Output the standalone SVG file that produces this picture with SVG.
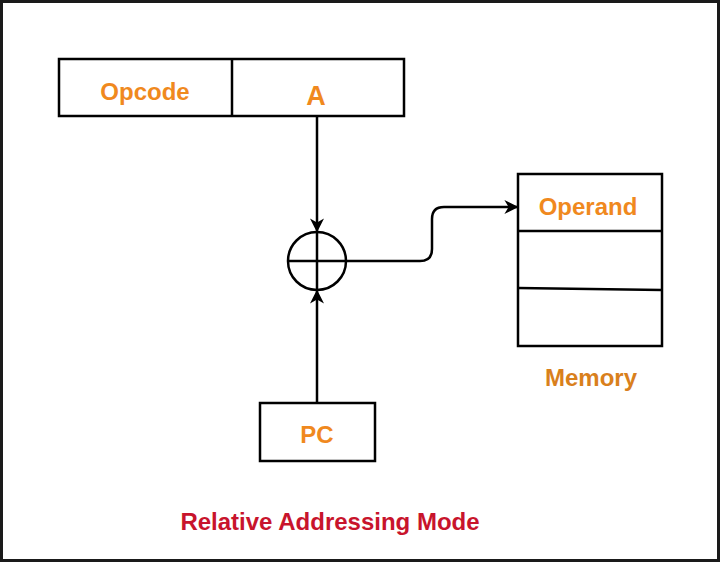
<svg xmlns="http://www.w3.org/2000/svg" width="720" height="562" viewBox="0 0 720 562">
<defs>
<style>
.b{fill:#fff;stroke:#000;stroke-width:2.5}
.l{fill:none;stroke:#000;stroke-width:2.5}
.t{font-family:"Liberation Sans",Arial,sans-serif;font-weight:bold;font-size:24px;text-anchor:middle;fill:#f0891e}
</style>
<marker id="ar" viewBox="0 0 10 10" refX="9" refY="5" markerWidth="14" markerHeight="14" orient="auto" markerUnits="userSpaceOnUse">
<path d="M0,0 L10,5 L0,10 L3,5 Z" fill="#000"/>
</marker>
</defs>
<rect x="0" y="0" width="720" height="562" fill="#fff"/>
<rect x="1.5" y="1.5" width="717" height="559" fill="none" stroke="#1a1a1a" stroke-width="3"/>
<g id="instruction">
<rect class="b" x="59" y="59" width="345" height="57"/>
<line class="l" x1="232" y1="59" x2="232" y2="116"/>
<text class="t" x="145" y="100">Opcode</text>
<text class="t" x="316" y="105" style="font-size:27px">A</text>
</g>
<g id="adder">
<circle class="b" cx="317" cy="261" r="29"/>
<line class="l" x1="288" y1="261" x2="346" y2="261"/>
<line class="l" x1="317" y1="232" x2="317" y2="290"/>
</g>
<g id="memory">
<rect class="b" x="518" y="174" width="144" height="172"/>
<line class="l" x1="518" y1="231" x2="662" y2="231"/>
<line class="l" x1="518" y1="288" x2="662" y2="290"/>
<text class="t" x="588" y="215">Operand</text>
<text class="t" x="591" y="386" style="fill:#d9801c">Memory</text>
</g>
<g id="pc">
<rect class="b" x="260" y="403" width="115" height="58"/>
<text class="t" x="317" y="443">PC</text>
</g>
<g id="title">
<text class="t" x="330" y="530" style="fill:#c8142c">Relative Addressing Mode</text>
</g>
<g id="connectors">
<path class="l" d="M317,116 V231" marker-end="url(#ar)"/>
<path class="l" d="M317,403 V291" marker-end="url(#ar)"/>
<path class="l" d="M346,261 H420 Q432,261 432,249 V219 Q432,207 444,207 H517" marker-end="url(#ar)"/>
</g>
</svg>
